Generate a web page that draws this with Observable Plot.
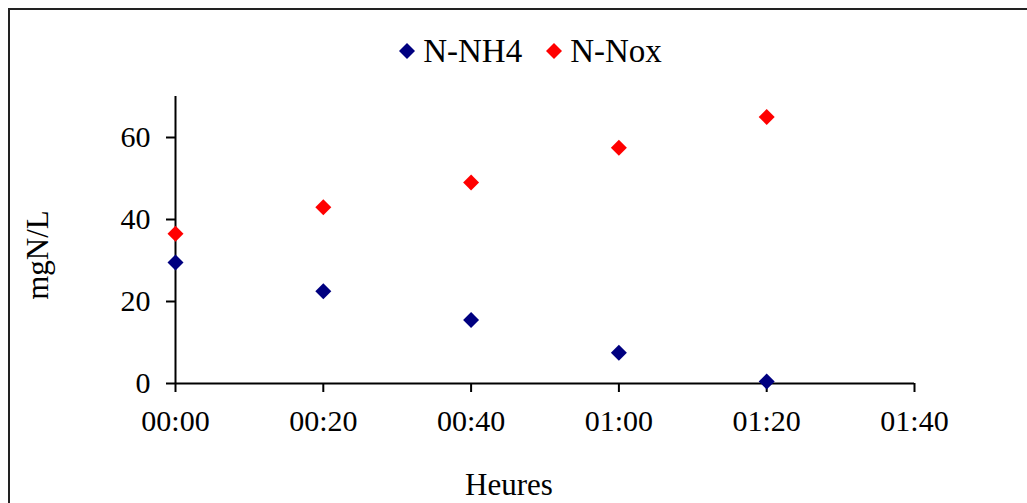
<!DOCTYPE html>
<html>
<head>
<meta charset="utf-8">
<script src="https://cdn.jsdelivr.net/npm/d3@7"></script>
<script src="https://cdn.jsdelivr.net/npm/@observablehq/plot@0.6"></script>
<style>
  html, body { margin: 0; padding: 0; background: #fff; overflow: hidden; }
  #wrap { position: relative; width: 1027px; height: 503px; overflow: hidden; font-family: "Liberation Serif", "Times New Roman", serif; }
  #border { position: absolute; left: 8px; top: 8px; width: 1100px; height: 600px; border-top: 2px solid #222; border-left: 2px solid #222; }
  #chart { position: absolute; left: 0; top: 0; }
  #legend { position: absolute; top: 30px; left: 17px; width: 1027px; text-align: center; font-size: 33px; color: #000; white-space: nowrap; }
  #legend .item { display: inline-flex; align-items: center; margin: 0 12px; }
  #legend svg { margin-right: 8px; }
</style>
</head>
<body>
<div id="wrap">
  <div id="border"></div>
  <div id="chart"></div>
  <div id="legend"></div>
</div>
<script>
// Data
const minutes = [0, 20, 40, 60, 80];
const nh4 = [29.5, 22.5, 15.5, 7.5, 0.5];
const nox = [36.5, 43, 49, 57.5, 65];
const seriesNames = ["N-NH4", "N-Nox"];
const seriesColors = ["#000080", "#ff0000"];
const xTicks = [0, 20, 40, 60, 80, 100];
const yTicks = [0, 20, 40, 60];

const fmt = m => String(Math.floor(m / 60)).padStart(2, "0") + ":" + String(m % 60).padStart(2, "0");

const rows = [];
minutes.forEach((m, i) => rows.push({t: m, v: nh4[i], s: seriesNames[0]}));
minutes.forEach((m, i) => rows.push({t: m, v: nox[i], s: seriesNames[1]}));

const chart = Plot.plot({
  width: 1027,
  height: 503,
  marginLeft: 175,
  marginRight: 113,
  marginTop: 96,
  marginBottom: 120,
  style: {fontFamily: '"Liberation Serif", "Times New Roman", serif', fontSize: "30px", color: "#000", background: "transparent"},
  x: {domain: [0, 100]},
  y: {domain: [0, 70]},
  color: {domain: seriesNames, range: seriesColors},
  marks: [
    Plot.ruleX([0], {stroke: "#000", strokeWidth: 2}),
    Plot.ruleY([0], {stroke: "#000", strokeWidth: 2}),
    Plot.axisY({ticks: yTicks, tickSize: 9, tickPadding: 16, strokeWidth: 2, label: null, fontSize: 30}),
    Plot.axisX({ticks: xTicks, tickFormat: fmt, tickSize: 9, tickPadding: 17, strokeWidth: 2, label: null, fontSize: 30}),
    Plot.dot(rows, {x: "t", y: "v", fill: "s", symbol: "diamond2", r: 7.2, stroke: "none"}),
    Plot.text(["mgN/L"], {frameAnchor: "left", textAnchor: "middle", dx: -137, dy: 15, rotate: -90, fontSize: 31}),
    Plot.text(["Heures"], {frameAnchor: "bottom", dx: -36, dy: 111, fontSize: 31})
  ]
});
document.getElementById("chart").appendChild(chart);

// Legend
const legend = document.getElementById("legend");
seriesNames.forEach((name, i) => {
  const item = document.createElement("span");
  item.className = "item";
  item.innerHTML = `<svg width="16" height="16" viewBox="-8 -8 16 16"><path d="${d3.symbol(d3.symbolDiamond2, 163)()}" fill="${seriesColors[i]}"></path></svg><span>${name}</span>`;
  legend.appendChild(item);
});
</script>
</body>
</html>
